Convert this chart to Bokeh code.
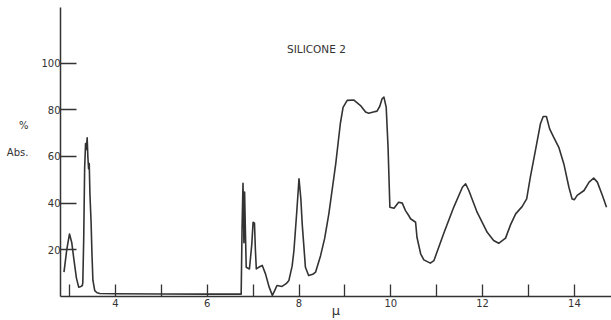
from bokeh.plotting import figure
from bokeh.models import Range1d, FixedTicker, Label
from bokeh.embed import file_html
from bokeh.resources import INLINE

# Wavelength (microns) and % absorbance
wavelength_um = [2.88, 2.94, 3.00, 3.05, 3.09, 3.15, 3.20, 3.25, 3.28, 3.29, 3.31, 3.33,
                 3.35, 3.365, 3.385, 3.40, 3.415, 3.43, 3.445, 3.47, 3.49, 3.51, 3.55,
                 3.60, 3.66, 4.00, 5.00, 6.00, 6.74, 6.76, 6.78, 6.795, 6.80, 6.815,
                 6.83, 6.85, 6.92, 6.97, 7.00, 7.03, 7.05, 7.07, 7.12, 7.20, 7.27, 7.35,
                 7.42, 7.47, 7.52, 7.63, 7.72, 7.78, 7.85, 7.89, 7.95, 8.00, 8.04, 8.07,
                 8.14, 8.21, 8.30, 8.36, 8.47, 8.56, 8.65, 8.80, 8.90, 8.96, 9.05, 9.19,
                 9.34, 9.45, 9.52, 9.62, 9.70, 9.76, 9.81, 9.85, 9.90, 9.94, 9.98, 10.07,
                 10.17, 10.25, 10.32, 10.39, 10.43, 10.54, 10.57, 10.65, 10.72, 10.86,
                 10.94, 11.15, 11.37, 11.56, 11.63, 11.70, 11.88, 12.10, 12.24, 12.35,
                 12.50, 12.61, 12.72, 12.86, 12.96, 13.04, 13.15, 13.26, 13.32, 13.39,
                 13.46, 13.55, 13.66, 13.77, 13.88, 13.95, 14.00, 14.06, 14.21, 14.32,
                 14.42, 14.50, 14.61, 14.70]
absorbance_pct = [10.4, 20.0, 26.8, 23.0, 16.8, 8.0, 4.0, 4.3, 4.7, 6.0, 25.0, 55.0,
                  65.5, 63.0, 68.0, 60.0, 54.7, 57.0, 44.0, 32.0, 18.0, 7.0, 2.5,
                  1.6, 1.3, 1.2, 1.1, 1.0, 1.0, 30.0, 48.5, 30.0, 23.0, 44.7,
                  30.0, 12.5, 11.8, 22.0, 31.8, 31.4, 20.0, 11.8, 12.5, 13.3, 9.7, 4.0,
                  0.5, 2.5, 4.7, 4.3, 5.5, 6.9, 13.0, 19.7, 36.0, 50.4, 42.0, 31.0,
                  12.5, 9.0, 9.5, 10.4, 17.5, 25.0, 35.4, 56.8, 74.0, 81.0, 84.0, 84.2,
                  81.8, 79.0, 78.5, 79.0, 79.4, 81.5, 84.7, 85.4, 81.0, 64.0, 38.2, 37.8,
                  40.4, 40.0, 36.8, 34.7, 33.3, 31.8, 25.4, 18.3, 15.7, 14.3,
                  15.4, 26.9, 38.2, 46.8, 48.3, 45.4, 36.1, 27.5, 24.0, 22.8,
                  25.0, 30.8, 35.4, 38.5, 41.8, 51.1, 62.5, 74.0, 77.1, 77.1,
                  71.8, 68.2, 63.9, 56.8, 46.8, 41.8, 41.5, 43.3, 45.4, 49.0,
                  50.7, 49.0, 43.3, 38.2]

x_ticks = [3, 4, 5, 6, 7, 8, 9, 10, 11, 12, 13, 14]
x_tick_labels = {t: (str(t) if t % 2 == 0 else "") for t in x_ticks}
y_ticks = [20, 40, 60, 80, 100]

title_text = "SILICONE 2"
y_label = "%\n\nAbs.\n\n"
x_label = "\u03bc"

INK = "#333333"
FONT = "DejaVu Sans"

p = figure(width=611, height=320, output_backend="svg", toolbar_location=None,
           x_range=Range1d(2.804, 14.808), y_range=Range1d(0, 123.8),
           min_border_left=60, min_border_right=0, min_border_top=7,
           min_border_bottom=24)
p.outline_line_color = None
p.grid.visible = False
p.background_fill_color = "white"
p.border_fill_color = "white"

p.line(wavelength_um, absorbance_pct, line_color=INK, line_width=1.6,
       line_join="round")

for ax in (p.xaxis, p.yaxis):
    ax.axis_line_color = INK
    ax.axis_line_width = 1.5
    ax.major_tick_line_color = INK
    ax.major_tick_line_width = 1.3
    ax.major_tick_out = 0
    ax.minor_tick_line_color = None
    ax.major_label_text_font = FONT
    ax.major_label_text_font_size = "10px"
    ax.major_label_text_color = INK
    ax.axis_label_text_font = FONT
    ax.axis_label_text_font_style = "normal"
    ax.axis_label_text_color = INK

p.xaxis.ticker = FixedTicker(ticks=x_ticks)
p.xaxis.major_label_overrides = x_tick_labels
p.xaxis.major_tick_in = 12
p.xaxis.major_label_standoff = 2
p.xaxis.axis_label = x_label
p.xaxis.axis_label_text_font_size = "13px"
p.xaxis.axis_label_standoff = -7

p.yaxis.ticker = FixedTicker(ticks=y_ticks)
p.yaxis.major_tick_in = 16
p.yaxis.major_label_standoff = 0
p.yaxis.axis_label = y_label
p.yaxis.axis_label_orientation = "horizontal"
p.yaxis.axis_label_text_font_size = "10px"
p.yaxis.axis_label_standoff = 10

p.add_layout(Label(x=8.38, y=106.2, text=title_text, text_align="center",
                   text_baseline="middle", text_font=FONT, text_font_size="10.5px",
                   text_color=INK))

open("out.html", "w").write(file_html(p, INLINE))
